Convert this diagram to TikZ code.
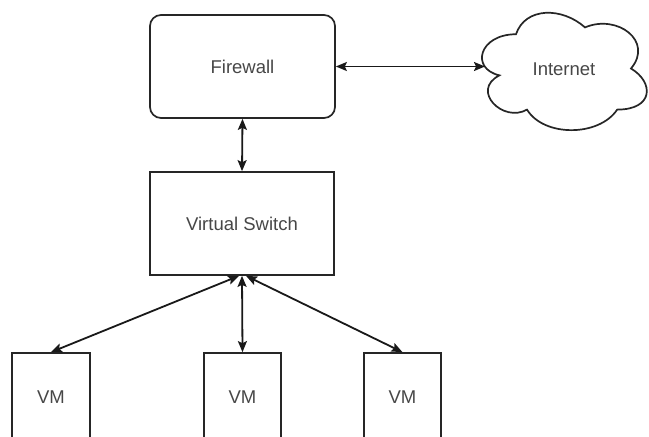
\documentclass[tikz,border=0pt]{standalone}
\usepackage{fontspec}
\setmainfont{Liberation Sans}
\usetikzlibrary{arrows.meta,calc}
\begin{document}
\begin{tikzpicture}[x=1pt,y=-1pt,
  box/.style={draw=black!85, line width=1.7pt, fill=white, inner sep=0pt, text=black!72, font=\fontsize{18.5}{22}\selectfont},
  lbl/.style={text=black!72, font=\fontsize{18.5}{22}\selectfont, inner sep=0pt},
  link/.style={line width=1.8pt, draw=black!90, {Stealth[length=11pt,width=9pt,inset=2pt]}-{Stealth[length=11pt,width=9pt,inset=2pt]}},
]
\useasboundingbox (0,0) rectangle (649,437);
\clip (0,0) rectangle (649,437);
\fill[white] (0,0) rectangle (649,437);

\node[box, rounded corners=11pt, minimum width=185pt, minimum height=103pt] (fw) at (242.5,66.5) {Firewall};
\node[box, minimum width=184pt, minimum height=103pt] (sw) at (242,223.5) {Virtual Switch};
\node[box, minimum width=78pt, minimum height=88pt] (vm1) at (51,397) {VM};
\node[box, minimum width=77pt, minimum height=88pt] (vm2) at (242.5,397) {VM};
\node[box, minimum width=77pt, minimum height=88pt] (vm3) at (402.5,397) {VM};

\begin{scope}[shift={(470,0)}, x=184pt, y=-137pt]
\draw[line width=1.7pt, draw=black!85, fill=white] (0.25,0.25) .. controls (0.05,0.25) and (0,0.5) .. (0.16,0.55) .. controls (0,0.66) and (0.18,0.9) .. (0.31,0.8) .. controls (0.4,1) and (0.7,1) .. (0.8,0.8) .. controls (1,0.8) and (1,0.6) .. (0.875,0.5) .. controls (1,0.3) and (0.8,0.1) .. (0.625,0.2) .. controls (0.5,0.05) and (0.3,0.05) .. (0.25,0.25) -- cycle;
\end{scope}
\node[lbl] (inet) at (564,69) {Internet};
\coordinate (cl) at (485,68);

\draw[link] (fw.east) -- (fw.east -| cl);
\draw[link] (fw.south) -- (sw.north);
\draw[link] ($(sw.south)+(-3,0)$) -- (vm1.north);
\draw[link] (sw.south) -- (vm2.north);
\draw[link] ($(sw.south)+(4,0)$) -- (vm3.north);
\end{tikzpicture}
\end{document}
